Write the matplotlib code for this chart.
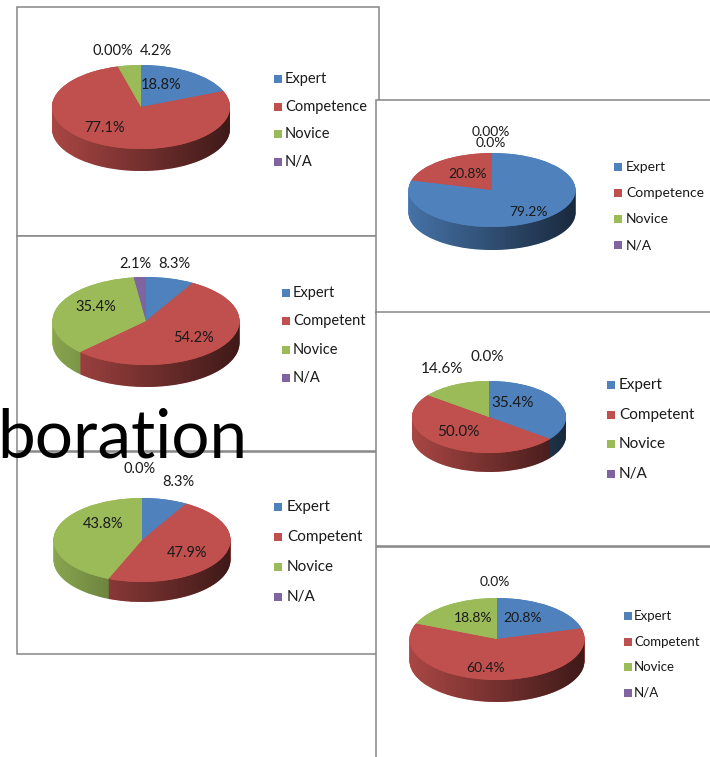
import numpy as np
import matplotlib
matplotlib.use("Agg")
import matplotlib.pyplot as plt
from matplotlib.patches import Rectangle, PathPatch
from matplotlib.path import Path

plt.rcParams['font.family'] = ['Lato', 'DejaVu Sans']

# ---------------- data ----------------
legend_A = ["Expert", "Competence", "Novice", "N/A"]
legend_B = ["Expert", "Competence", "Novice", "N/A"]
legend_std = ["Expert", "Competent", "Novice", "N/A"]

values_A = [18.8, 77.1, 4.2, 0.0]
labels_A = ["18.8%", "77.1%", "4.2%", "0.00%"]
values_B = [79.2, 20.8, 0.0, 0.0]
labels_B = ["79.2%", "20.8%", "0.0%", "0.00%"]
values_C = [8.3, 54.2, 35.4, 2.1]
labels_C = ["8.3%", "54.2%", "35.4%", "2.1%"]
values_D = [35.4, 50.0, 14.6, 0.0]
labels_D = ["35.4%", "50.0%", "14.6%", "0.0%"]
values_E = [8.3, 47.9, 43.8, 0.0]
labels_E = ["8.3%", "47.9%", "43.8%", "0.0%"]
values_F = [20.8, 60.4, 18.8, 0.0]
labels_F = ["20.8%", "60.4%", "18.8%", "0.0%"]

background_word = "boration"

colors = ["#4F81BD", "#C0504D", "#9BBB59", "#8064A2"]

# ---------------- layout (pixels) ----------------
W, H = 710, 757
panels = [
    dict(box=(17, 7, 379, 236), c=(141, 107), a=89, b=42, d=22,
         vals=values_A, labs=labels_A, leg=legend_A,
         off=[(20, -22), (-36, 21), (15, -56), (-28, -56)],
         legx=278, legtx=285, legy=79, legdy=27.6, fs=10.5, lfs=10.5),
    dict(box=(17, 236, 378, 451), c=(146, 321), a=93.5, b=44, d=22,
         vals=values_C, labs=labels_C, leg=legend_std,
         off=[(28, -57), (47, 17), (-50, -14), (-11, -57)],
         legx=286, legtx=293, legy=293, legdy=28.3, fs=10.5, lfs=10.5),
    dict(box=(17, 452, 377, 654), c=(142, 540), a=88.5, b=42, d=20,
         vals=values_E, labs=labels_E, leg=legend_std,
         off=[(36, -58), (45, 13), (-39, -16), (-2, -71)],
         legx=278, legtx=287, legy=507, legdy=30, fs=11, lfs=10.5),
    dict(box=(376, 100, 715, 313), c=(492, 190), a=83.5, b=37, d=23,
         vals=values_B, labs=labels_B, leg=legend_B,
         off=[(36, 22), (-24, -16), (-1, -47), (-1, -58)],
         legx=618, legtx=626, legy=167, legdy=26, fs=10, lfs=10),
    dict(box=(376, 312, 715, 546), c=(489, 417), a=77, b=36, d=19,
         vals=values_D, labs=labels_D, leg=legend_std,
         off=[(24, -14), (-31, 15), (-47, -48), (-2, -60)],
         legx=611, legtx=619, legy=385, legdy=29.7, fs=11, lfs=11),
    dict(box=(376, 547, 715, 760), c=(497, 639), a=87.5, b=41, d=22,
         vals=values_F, labs=labels_F, leg=legend_std,
         off=[(26, -21), (-11, 29), (-24, -21), (-2, -57)],
         legx=628, legtx=634, legy=616, legdy=25.5, fs=9.5, lfs=10),
]

fig = plt.figure(figsize=(W / 100, H / 100), dpi=100)
fig.patch.set_facecolor("white")

bg = fig.add_axes([0, 0, 1, 1], zorder=0)
bg.set_xlim(0, W)
bg.set_ylim(H, 0)
bg.axis("off")

for p in panels:
    x0, y0, x1, y1 = p["box"]
    bg.add_patch(Rectangle((x0, y0), x1 - x0, y1 - y0, facecolor="white",
                           edgecolor="#868686", linewidth=1.1))


def draw_pie(p):
    cx, cy = p["c"]
    a, b, d = p["a"], p["b"], p["d"]
    dd = d / b
    left = (cx - a) / W
    bottom = 1 - (cy + b + d) / H
    ax = fig.add_axes([left, bottom, 2 * a / W, (2 * b + d) / H], zorder=1)
    vals = p["vals"]
    # side layers
    for k in np.linspace(dd, 0, 40):
        ax.pie(vals, colors=colors, startangle=90, counterclock=False,
               center=(0, -k), radius=1,
               wedgeprops=dict(linewidth=0, zorder=1))
    # horizontal shading on the side
    t = np.linspace(np.pi, 2 * np.pi, 120)
    up = np.column_stack([np.cos(t), np.sin(t)])
    lo = np.column_stack([np.cos(t[::-1]), np.sin(t[::-1]) - dd])
    verts = np.vstack([up, lo, up[:1]])
    clip = PathPatch(Path(verts), facecolor="none", edgecolor="none")
    ax.add_patch(clip)
    grad = np.zeros((2, 256, 4))
    grad[..., 3] = np.linspace(0.12, 0.68, 256)
    im = ax.imshow(grad, extent=(-1, 1, -1 - dd, 0), aspect="auto",
                   interpolation="bilinear", zorder=2)
    im.set_clip_path(clip)
    # top face
    ax.pie(vals, colors=colors, startangle=90, counterclock=False,
           center=(0, 0), radius=1,
           wedgeprops=dict(linewidth=0, zorder=3))
    ax.set_aspect("auto")
    ax.set_xlim(-1, 1)
    ax.set_ylim(-1 - dd, 1)
    ax.axis("off")


for p in panels:
    draw_pie(p)

ov = fig.add_axes([0, 0, 1, 1], zorder=5)
ov.set_xlim(0, W)
ov.set_ylim(H, 0)
ov.axis("off")
ov.patch.set_alpha(0)

for p in panels:
    cx, cy = p["c"]
    for lab, (dx, dy) in zip(p["labs"], p["off"]):
        ov.text(cx + dx, cy + dy, lab, ha="center", va="center",
                fontsize=p["lfs"], color="#1a1a1a")
    s = 8
    for i, (name, col) in enumerate(zip(p["leg"], colors)):
        y = p["legy"] + i * p["legdy"]
        ov.add_patch(Rectangle((p["legx"] - s / 2, y - s / 2), s, s,
                               facecolor=col, edgecolor="none"))
        ov.text(p["legtx"], y, name, ha="left", va="center",
                fontsize=p["fs"], color="#1a1a1a")

ov.text(-3, 457, background_word, ha="left", va="baseline", fontsize=48.5,
        color="black")

fig.savefig("out.png", dpi=100, facecolor="white")
